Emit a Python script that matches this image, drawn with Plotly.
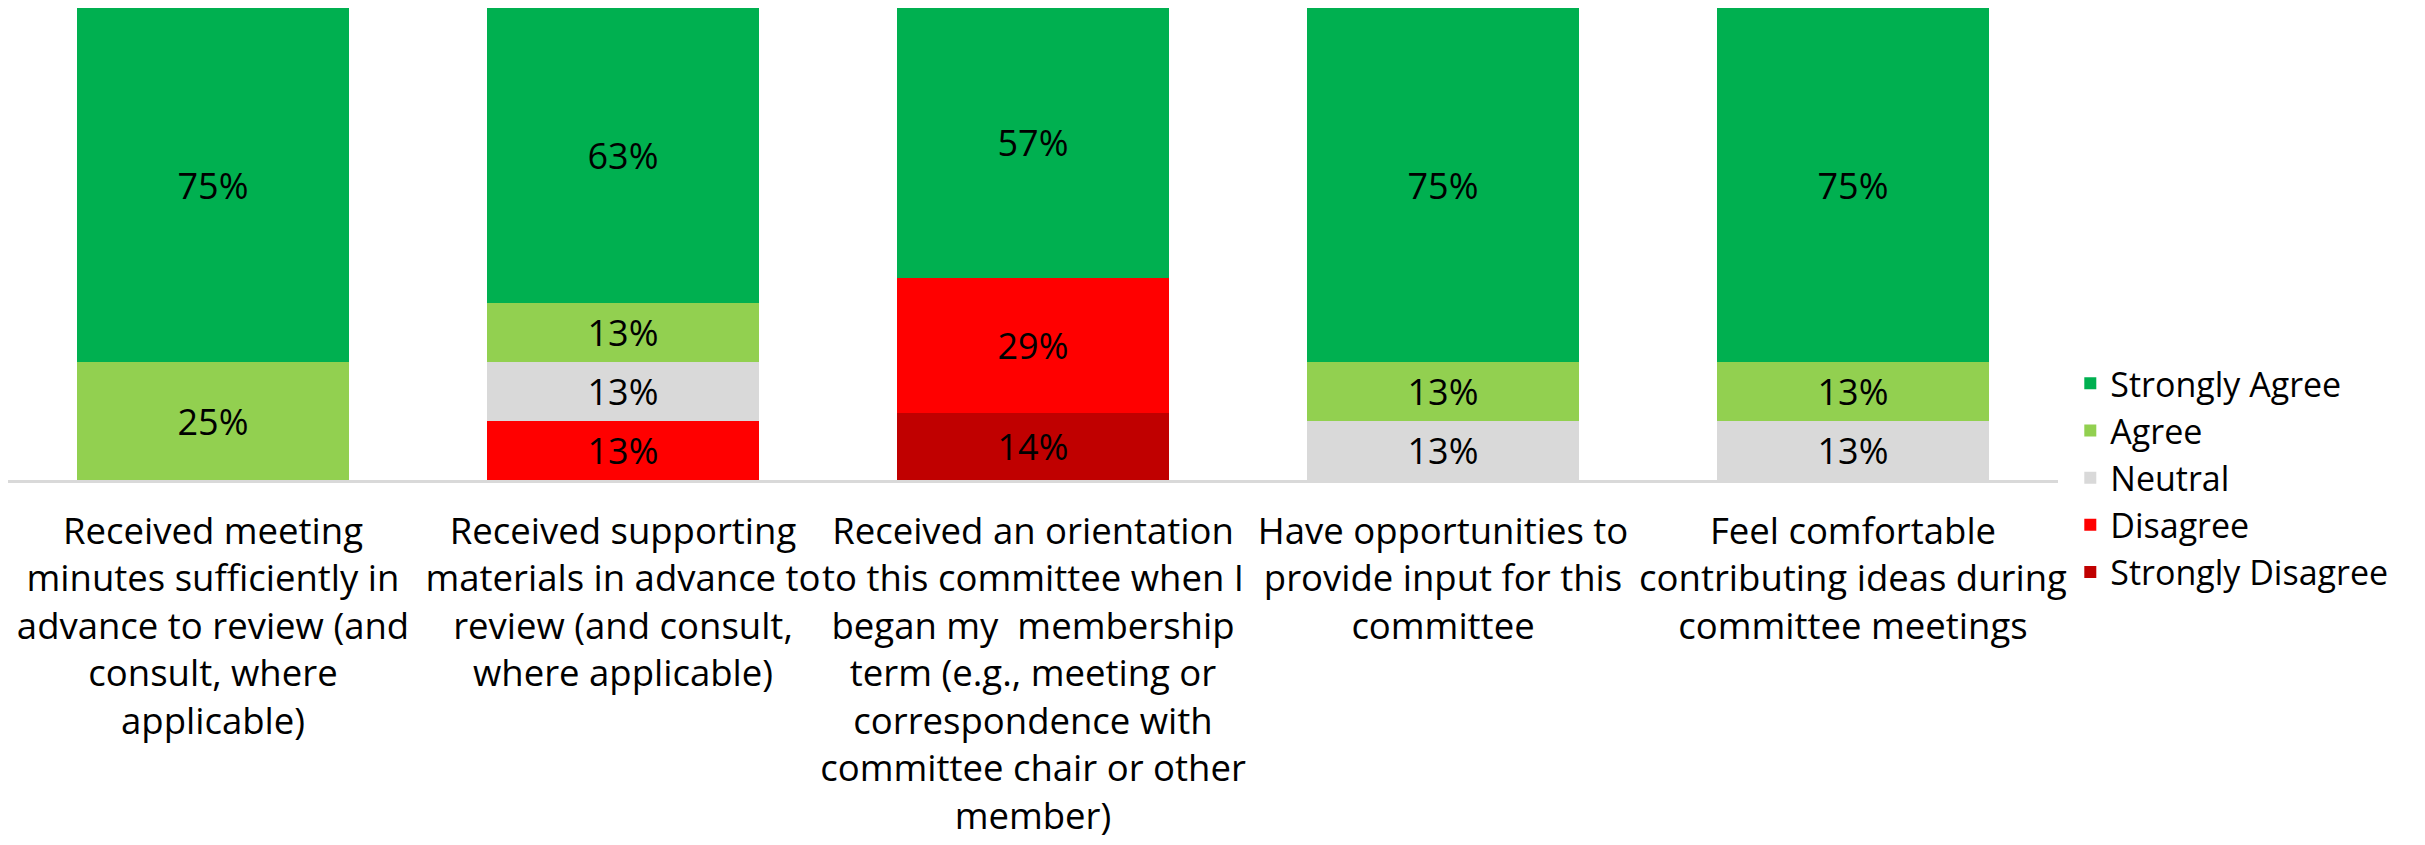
import plotly.graph_objects as go

categories = [
    "Received meeting<br>minutes sufficiently in<br>advance to review (and<br>consult, where<br>applicable)",
    "Received supporting<br>materials in advance to<br>review (and consult,<br>where applicable)",
    "Received an orientation<br>to this committee when I<br>began my  membership<br>term (e.g., meeting or<br>correspondence with<br>committee chair or other<br>member)",
    "Have opportunities to<br>provide input for this<br>committee",
    "Feel comfortable<br>contributing ideas during<br>committee meetings",
]

strongly_disagree = [0, 0, 0.143, 0, 0]
disagree = [0, 0.125, 0.286, 0, 0]
neutral = [0, 0.125, 0, 0.125, 0.125]
agree = [0.25, 0.125, 0, 0.125, 0.125]
strongly_agree = [0.75, 0.625, 0.571, 0.75, 0.75]

series = [
    ("Strongly Disagree", strongly_disagree, "#C00000"),
    ("Disagree", disagree, "#FF0000"),
    ("Neutral", neutral, "#D9D9D9"),
    ("Agree", agree, "#92D050"),
    ("Strongly Agree", strongly_agree, "#00B050"),
]

FONT = "Open Sans, Lato, sans-serif"

fig = go.Figure()
for name, vals, color in series:
    texts = [("%d%%" % int(v * 100 + 0.5)) if v > 0 else "" for v in vals]
    fig.add_trace(go.Bar(
        x=categories, y=vals, name=name, marker_color=color,
        marker_line_width=0,
        text=texts, textposition="inside", insidetextanchor="middle",
        constraintext="none",
        textfont=dict(color="black", size=36, family=FONT),
    ))

fig.update_layout(
    width=2417, height=837,
    margin=dict(l=0, r=367, t=0, b=365),
    barmode="stack", bargap=0.337,
    plot_bgcolor="white", paper_bgcolor="white",
    font=dict(family=FONT, size=36, color="black"),
    legend=dict(traceorder="reversed", x=1.006, xanchor="left",
                y=0.005, yanchor="middle", font=dict(size=34),
                bgcolor="rgba(0,0,0,0)", itemclick=False),
    showlegend=True,
)
fig.update_xaxes(showline=True, linecolor="#D9D9D9", linewidth=3,
                 ticks="outside", ticklen=17, tickcolor="rgba(0,0,0,0)",
                 tickfont=dict(size=36.5, color="black"), tickangle=0)
fig.update_yaxes(visible=False, range=[0, 1])

fig.write_html("out.html")
